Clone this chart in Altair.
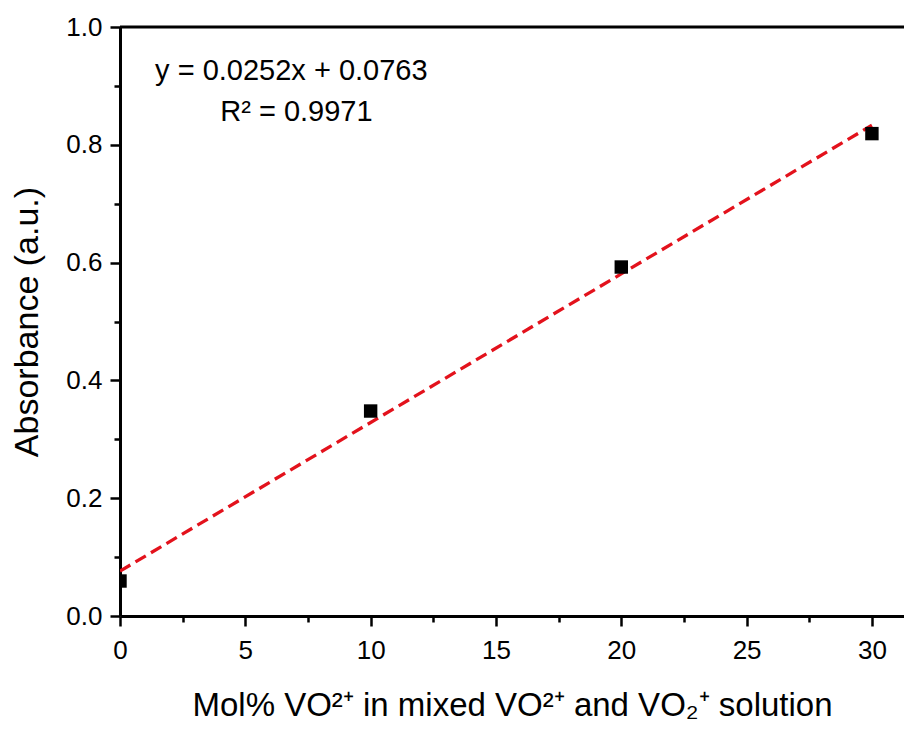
import altair as alt
import pandas as pd

# Data
mol_pct = [0, 10, 20, 30]
absorbance = [0.0594, 0.348, 0.5925, 0.819]

x_ticks = [0, 2.5, 5, 7.5, 10, 12.5, 15, 17.5, 20, 22.5, 25, 27.5, 30]
y_ticks = [0.0, 0.1, 0.2, 0.3, 0.4, 0.5, 0.6, 0.7, 0.8, 0.9, 1.0]

eq_text = ["y = 0.0252x + 0.0763", "R² = 0.9971"]
eq_x = [1.4, 4.0]
eq_y = [0.926, 0.856]

df = pd.DataFrame({"x": mol_pct, "y": absorbance})
df_eq = pd.DataFrame({"x": eq_x, "y": eq_y, "t": eq_text})

FONT = "Liberation Sans"

xscale = alt.Scale(domain=[0, 31.28], nice=False, zero=False)
yscale = alt.Scale(domain=[0, 1.0], nice=False)

xaxis = alt.Axis(
    values=x_ticks,
    title="Mol% VO²⁺ in mixed VO²⁺ and VO₂⁺ solution",
    titleFontSize=33,
    labelExpr="datum.value % 5 === 0 ? format(datum.value, 'd') : ''",
    tickSize={"condition": {"test": "datum.value % 5 === 0", "value": 10}, "value": 6},
    labelPadding=11,
    titlePadding=26,
    labelFlush=False,
    labelOverlap=False,
)
yaxis = alt.Axis(
    values=y_ticks,
    title="Absorbance (a.u.)",
    titleFontSize=34,
    labelExpr="round(datum.value * 10) % 2 === 0 ? format(datum.value, '.1f') : ''",
    tickSize={"condition": {"test": "round(datum.value * 10) % 2 === 0", "value": 10}, "value": 6},
    labelPadding=8,
    titlePadding=21,
    labelFlush=False,
    labelOverlap=False,
)

base = alt.Chart(df)

points = base.mark_square(size=180, color="black", opacity=1, clip=True).encode(
    x=alt.X("x:Q", scale=xscale, axis=xaxis),
    y=alt.Y("y:Q", scale=yscale, axis=yaxis),
)

fit = base.transform_regression("x", "y").mark_line(
    color="#e3121c", strokeDash=[12, 6], strokeWidth=3.3, clip=True
).encode(
    x=alt.X("x:Q", scale=xscale),
    y=alt.Y("y:Q", scale=yscale),
)

top_border = alt.Chart(pd.DataFrame({"y": [1.0]})).mark_rule(
    color="black", strokeWidth=3
).encode(y=alt.Y("y:Q", scale=yscale))

eq = alt.Chart(df_eq).mark_text(
    align="left", baseline="middle", font=FONT, fontSize=29, color="black"
).encode(
    x=alt.X("x:Q", scale=xscale),
    y=alt.Y("y:Q", scale=yscale),
    text="t:N",
)

chart = (
    alt.layer(fit, points, top_border, eq)
    .properties(
        width=784,
        height=589,
        autosize=alt.AutoSizeParams(type="none"),
        padding={"left": 112, "top": 19, "right": 0, "bottom": 107},
        background="white",
    )
    .configure_view(stroke=None)
    .configure_axis(
        grid=False,
        domainColor="black",
        domainWidth=3,
        tickColor="black",
        tickWidth=2.5,
        labelColor="black",
        titleColor="black",
        labelFont=FONT,
        titleFont=FONT,
        labelFontSize=26,
        titleFontWeight="normal",
    )
)

chart.save("out.html", embed_options={"renderer": "svg", "actions": False})
